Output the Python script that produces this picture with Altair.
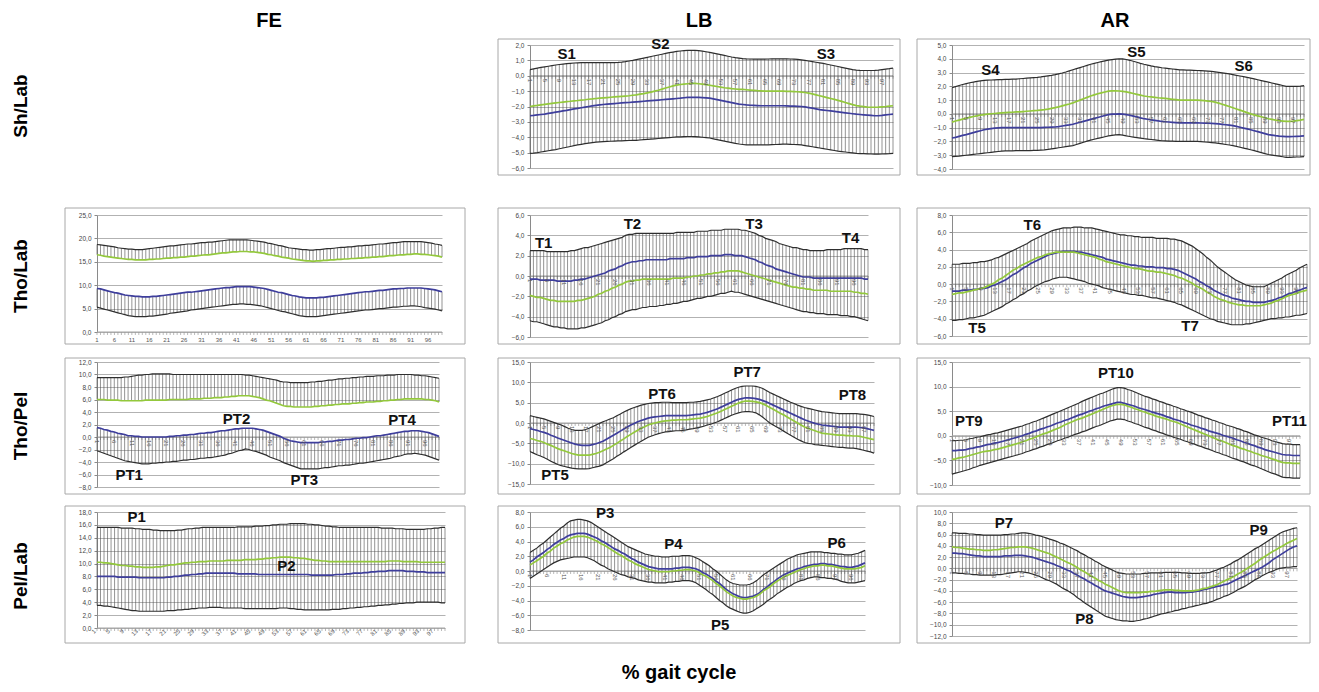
import altair as alt
import pandas as pd

FONT = "Liberation Sans"
GREEN = "#93C83C"
BLUE = "#3E3E9C"
ENV = "#2e2e2e"
HATCH = "#4c4c4c"
GRID = "#b2b2b2"

X = list(range(1, 101))
TICKS4 = [1, 5, 9, 13, 17, 21, 25, 29, 33, 37, 41, 45, 49, 53, 57, 61, 65, 69, 73, 77, 81, 85, 89, 93, 97]
TICKS5 = [1, 6, 11, 16, 21, 26, 31, 36, 41, 46, 51, 56, 61, 66, 71, 76, 81, 86, 91, 96]

# ---------------- Sh/Lab  LB ----------------
SH_LB_U = [0.40,0.45,0.50,0.54,0.58,0.62,0.66,0.70,0.73,0.76,
           0.79,0.81,0.83,0.84,0.85,0.85,0.85,0.85,0.85,0.85,
           0.85,0.85,0.85,0.86,0.87,0.89,0.92,0.96,1.00,1.05,
           1.10,1.15,1.20,1.25,1.30,1.35,1.40,1.45,1.50,1.54,
           1.58,1.61,1.63,1.65,1.65,1.65,1.63,1.60,1.56,1.52,
           1.47,1.42,1.37,1.32,1.27,1.22,1.18,1.15,1.12,1.10,
           1.09,1.08,1.08,1.08,1.08,1.09,1.10,1.10,1.10,1.10,
           1.10,1.09,1.08,1.06,1.03,1.00,0.96,0.92,0.88,0.84,
           0.80,0.75,0.70,0.65,0.60,0.55,0.50,0.45,0.40,0.37,
           0.35,0.34,0.34,0.34,0.35,0.37,0.40,0.43,0.46,0.50]
SH_LB_G = [-2.00,-1.96,-1.93,-1.89,-1.86,-1.83,-1.80,-1.77,-1.74,-1.71,
           -1.68,-1.66,-1.63,-1.61,-1.58,-1.56,-1.53,-1.51,-1.48,-1.46,
           -1.44,-1.42,-1.40,-1.38,-1.36,-1.34,-1.32,-1.30,-1.27,-1.24,
           -1.20,-1.16,-1.11,-1.06,-1.00,-0.94,-0.87,-0.80,-0.73,-0.66,
           -0.61,-0.57,-0.54,-0.52,-0.50,-0.50,-0.52,-0.55,-0.58,-0.62,
           -0.66,-0.70,-0.74,-0.78,-0.81,-0.84,-0.86,-0.88,-0.89,-0.91,
           -0.93,-0.95,-0.97,-0.98,-1.00,-1.00,-1.00,-1.00,-1.00,-1.00,
           -1.01,-1.02,-1.03,-1.04,-1.06,-1.09,-1.13,-1.18,-1.24,-1.30,
           -1.36,-1.42,-1.48,-1.54,-1.60,-1.67,-1.74,-1.81,-1.88,-1.94,
           -1.98,-2.01,-2.04,-2.05,-2.05,-2.04,-2.02,-2.00,-1.97,-1.95]
SH_LB_B = [-2.60,-2.58,-2.55,-2.52,-2.49,-2.45,-2.41,-2.37,-2.33,-2.29,
           -2.25,-2.20,-2.16,-2.12,-2.08,-2.04,-2.00,-1.96,-1.93,-1.90,
           -1.87,-1.85,-1.83,-1.81,-1.79,-1.77,-1.75,-1.74,-1.72,-1.70,
           -1.68,-1.66,-1.64,-1.62,-1.60,-1.58,-1.56,-1.54,-1.52,-1.50,
           -1.48,-1.46,-1.43,-1.41,-1.40,-1.40,-1.41,-1.42,-1.44,-1.46,
           -1.50,-1.55,-1.60,-1.65,-1.70,-1.75,-1.80,-1.84,-1.87,-1.90,
           -1.92,-1.93,-1.94,-1.95,-1.95,-1.95,-1.95,-1.95,-1.95,-1.95,
           -1.96,-1.97,-1.98,-1.99,-2.00,-2.03,-2.07,-2.11,-2.15,-2.20,
           -2.23,-2.26,-2.29,-2.32,-2.35,-2.38,-2.41,-2.44,-2.47,-2.50,
           -2.52,-2.54,-2.56,-2.58,-2.60,-2.60,-2.58,-2.55,-2.52,-2.50]
SH_LB_L = [-5.05,-5.03,-5.00,-4.96,-4.92,-4.88,-4.84,-4.80,-4.75,-4.70,
           -4.65,-4.60,-4.55,-4.50,-4.46,-4.42,-4.38,-4.35,-4.32,-4.30,
           -4.28,-4.27,-4.26,-4.25,-4.24,-4.23,-4.22,-4.21,-4.20,-4.20,
           -4.18,-4.16,-4.14,-4.12,-4.10,-4.08,-4.06,-4.04,-4.02,-4.00,
           -3.98,-3.97,-3.96,-3.95,-3.95,-3.96,-3.98,-4.00,-4.02,-4.05,
           -4.10,-4.15,-4.20,-4.25,-4.30,-4.35,-4.40,-4.44,-4.47,-4.50,
           -4.50,-4.50,-4.50,-4.50,-4.50,-4.49,-4.48,-4.47,-4.46,-4.45,
           -4.45,-4.46,-4.47,-4.48,-4.50,-4.54,-4.58,-4.62,-4.66,-4.70,
           -4.74,-4.78,-4.82,-4.86,-4.90,-4.93,-4.96,-4.99,-5.02,-5.05,
           -5.06,-5.07,-5.08,-5.09,-5.10,-5.10,-5.09,-5.08,-5.07,-5.05]

# ---------------- Sh/Lab  AR ----------------
SH_AR_U = [1.90,1.98,2.06,2.13,2.20,2.26,2.31,2.36,2.40,2.43,
           2.45,2.46,2.47,2.48,2.49,2.50,2.51,2.52,2.53,2.55,
           2.57,2.59,2.61,2.63,2.65,2.68,2.72,2.76,2.80,2.85,
           2.91,2.97,3.04,3.12,3.20,3.28,3.36,3.44,3.52,3.60,
           3.67,3.73,3.79,3.85,3.90,3.94,3.97,4.00,3.99,3.95,
           3.89,3.82,3.75,3.67,3.60,3.54,3.48,3.43,3.39,3.35,
           3.32,3.29,3.26,3.23,3.20,3.19,3.18,3.17,3.16,3.15,
           3.14,3.12,3.10,3.08,3.05,3.02,2.98,2.94,2.90,2.85,
           2.80,2.75,2.70,2.65,2.60,2.54,2.48,2.42,2.36,2.30,
           2.24,2.18,2.12,2.06,2.00,1.99,1.99,2.00,2.02,2.05]
SH_AR_G = [-0.60,-0.52,-0.45,-0.38,-0.31,-0.25,-0.19,-0.14,-0.09,-0.05,
           -0.02,0.01,0.03,0.05,0.07,0.09,0.11,0.12,0.14,0.15,
           0.17,0.19,0.21,0.23,0.25,0.28,0.31,0.35,0.40,0.45,
           0.51,0.58,0.65,0.72,0.80,0.90,1.00,1.10,1.20,1.30,
           1.38,1.46,1.53,1.59,1.65,1.67,1.67,1.66,1.64,1.60,
           1.54,1.48,1.42,1.36,1.30,1.26,1.23,1.20,1.17,1.15,
           1.12,1.09,1.06,1.03,1.00,1.00,1.00,1.00,1.00,1.00,
           0.98,0.96,0.93,0.90,0.85,0.78,0.70,0.62,0.54,0.45,
           0.36,0.27,0.18,0.09,0.00,-0.07,-0.14,-0.21,-0.28,-0.35,
           -0.40,-0.45,-0.49,-0.52,-0.55,-0.55,-0.53,-0.49,-0.45,-0.40]
SH_AR_B = [-1.75,-1.70,-1.63,-1.56,-1.50,-1.43,-1.36,-1.29,-1.22,-1.15,
           -1.11,-1.07,-1.04,-1.02,-1.00,-1.00,-1.00,-1.00,-1.00,-1.00,
           -1.00,-1.00,-1.00,-1.00,-1.00,-0.99,-0.98,-0.97,-0.96,-0.95,
           -0.92,-0.88,-0.84,-0.80,-0.75,-0.68,-0.61,-0.54,-0.47,-0.40,
           -0.33,-0.26,-0.19,-0.12,-0.05,-0.02,-0.01,0.00,-0.02,-0.05,
           -0.10,-0.16,-0.22,-0.29,-0.35,-0.39,-0.43,-0.47,-0.51,-0.55,
           -0.57,-0.59,-0.61,-0.63,-0.65,-0.65,-0.65,-0.65,-0.65,-0.65,
           -0.66,-0.67,-0.68,-0.69,-0.70,-0.73,-0.76,-0.79,-0.82,-0.85,
           -0.91,-0.97,-1.03,-1.09,-1.15,-1.22,-1.29,-1.36,-1.43,-1.50,
           -1.54,-1.58,-1.61,-1.63,-1.65,-1.65,-1.64,-1.63,-1.62,-1.60]
SH_AR_L = [-3.10,-3.08,-3.06,-3.03,-3.00,-2.97,-2.94,-2.91,-2.88,-2.85,
           -2.82,-2.79,-2.76,-2.73,-2.70,-2.69,-2.68,-2.68,-2.67,-2.67,
           -2.66,-2.66,-2.66,-2.65,-2.65,-2.63,-2.61,-2.58,-2.54,-2.50,
           -2.46,-2.42,-2.38,-2.34,-2.30,-2.22,-2.14,-2.06,-1.98,-1.90,
           -1.84,-1.78,-1.72,-1.66,-1.60,-1.56,-1.53,-1.50,-1.54,-1.60,
           -1.64,-1.68,-1.72,-1.76,-1.80,-1.83,-1.86,-1.89,-1.92,-1.95,
           -1.96,-1.97,-1.98,-1.99,-2.00,-2.00,-2.00,-2.00,-2.00,-2.00,
           -2.02,-2.04,-2.06,-2.08,-2.10,-2.14,-2.18,-2.22,-2.26,-2.30,
           -2.36,-2.42,-2.48,-2.54,-2.60,-2.67,-2.74,-2.81,-2.88,-2.95,
           -2.99,-3.03,-3.07,-3.11,-3.15,-3.15,-3.14,-3.13,-3.12,-3.10]

# ---------------- Tho/Lab  FE ----------------
TL_FE_U = [18.7,18.6,18.5,18.4,18.3,18.2,18.0,17.9,17.8,17.7,
           17.7,17.6,17.6,17.6,17.7,17.8,17.9,18.0,18.1,18.2,
           18.3,18.4,18.4,18.5,18.6,18.7,18.8,18.8,18.9,19.0,
           19.1,19.1,19.2,19.2,19.3,19.4,19.5,19.6,19.7,19.7,
           19.7,19.7,19.7,19.7,19.6,19.5,19.4,19.3,19.2,19.0,
           18.9,18.7,18.5,18.4,18.2,18.0,17.9,17.8,17.7,17.6,
           17.6,17.5,17.5,17.6,17.6,17.7,17.8,17.8,17.9,18.0,
           18.1,18.1,18.2,18.2,18.3,18.4,18.4,18.5,18.5,18.6,
           18.7,18.8,18.8,18.9,19.0,19.1,19.1,19.2,19.3,19.3,
           19.3,19.3,19.3,19.3,19.2,19.1,19.0,18.8,18.7,18.5]
TL_FE_G = [16.5,16.4,16.2,16.1,16.0,15.9,15.8,15.7,15.6,15.5,
           15.5,15.4,15.4,15.4,15.4,15.5,15.5,15.6,15.6,15.7,
           15.8,15.8,15.9,15.9,16.0,16.0,16.1,16.2,16.2,16.3,
           16.4,16.5,16.5,16.6,16.7,16.8,16.9,16.9,17.0,17.1,
           17.1,17.2,17.2,17.2,17.1,17.1,17.0,16.9,16.8,16.6,
           16.5,16.3,16.2,16.0,15.9,15.8,15.6,15.5,15.4,15.3,
           15.2,15.2,15.1,15.2,15.2,15.3,15.3,15.4,15.4,15.5,
           15.5,15.6,15.6,15.7,15.7,15.8,15.8,15.9,15.9,16.0,
           16.0,16.1,16.1,16.2,16.3,16.3,16.4,16.5,16.5,16.6,
           16.6,16.7,16.7,16.6,16.6,16.5,16.4,16.3,16.2,16.0]
TL_FE_B = [9.3,9.2,9.0,8.8,8.6,8.4,8.3,8.1,7.9,7.8,
           7.7,7.6,7.6,7.5,7.5,7.5,7.6,7.6,7.7,7.8,
           7.9,8.0,8.1,8.2,8.3,8.4,8.5,8.5,8.6,8.7,
           8.8,8.9,9.0,9.1,9.2,9.3,9.4,9.5,9.5,9.6,
           9.7,9.7,9.7,9.7,9.7,9.6,9.5,9.4,9.3,9.1,
           8.9,8.7,8.5,8.4,8.2,8.0,7.8,7.7,7.5,7.4,
           7.3,7.3,7.3,7.3,7.4,7.4,7.5,7.6,7.7,7.8,
           7.9,8.0,8.1,8.2,8.3,8.4,8.5,8.6,8.6,8.7,
           8.8,8.9,8.9,9.0,9.1,9.2,9.2,9.3,9.3,9.4,
           9.4,9.4,9.4,9.4,9.3,9.2,9.1,9.0,8.8,8.6]
TL_FE_L = [5.3,5.1,4.9,4.7,4.5,4.3,4.1,3.9,3.7,3.5,
           3.4,3.3,3.3,3.3,3.3,3.4,3.4,3.5,3.6,3.7,
           3.8,4.0,4.1,4.2,4.3,4.4,4.5,4.7,4.8,4.9,
           5.0,5.1,5.2,5.3,5.4,5.5,5.6,5.7,5.8,5.9,
           5.9,6.0,6.0,5.9,5.9,5.8,5.7,5.6,5.4,5.2,
           5.0,4.8,4.6,4.4,4.3,4.1,3.9,3.7,3.5,3.4,
           3.3,3.3,3.3,3.3,3.4,3.5,3.6,3.7,3.8,3.9,
           4.0,4.1,4.2,4.3,4.4,4.5,4.6,4.7,4.7,4.8,
           4.9,5.0,5.0,5.1,5.2,5.3,5.3,5.4,5.5,5.5,
           5.6,5.6,5.5,5.4,5.2,5.1,5.0,4.9,4.7,4.5]

# ---------------- Tho/Lab  LB ----------------
TL_LB_U = [2.5,2.5,2.5,2.5,2.5,2.4,2.4,2.4,2.4,2.4,
           2.4,2.4,2.5,2.5,2.6,2.7,2.8,2.8,2.9,3.0,
           3.1,3.2,3.3,3.4,3.5,3.6,3.7,3.8,4.0,4.1,
           4.1,4.2,4.2,4.2,4.2,4.2,4.2,4.2,4.2,4.2,
           4.2,4.2,4.2,4.3,4.3,4.3,4.3,4.3,4.3,4.4,
           4.4,4.4,4.4,4.5,4.5,4.5,4.5,4.6,4.6,4.6,
           4.6,4.6,4.5,4.5,4.4,4.3,4.2,4.0,3.9,3.7,
           3.6,3.5,3.4,3.2,3.1,3.0,2.9,2.8,2.8,2.7,
           2.6,2.6,2.5,2.5,2.5,2.5,2.5,2.6,2.6,2.6,
           2.6,2.6,2.7,2.7,2.7,2.7,2.7,2.7,2.6,2.6]
TL_LB_B = [-0.3,-0.3,-0.3,-0.4,-0.4,-0.4,-0.4,-0.4,-0.5,-0.5,
           -0.5,-0.5,-0.5,-0.4,-0.4,-0.3,-0.3,-0.2,-0.1,0.0,
           0.1,0.2,0.3,0.5,0.6,0.7,0.9,1.0,1.2,1.3,
           1.4,1.4,1.5,1.5,1.6,1.6,1.6,1.6,1.6,1.6,
           1.6,1.7,1.7,1.7,1.7,1.7,1.8,1.8,1.8,1.9,
           1.9,1.9,1.9,2.0,2.0,2.0,2.0,2.1,2.1,2.1,
           2.0,2.0,2.0,1.9,1.8,1.7,1.6,1.4,1.3,1.1,
           1.0,0.9,0.7,0.6,0.5,0.4,0.3,0.2,0.1,0.0,
           -0.1,-0.1,-0.1,-0.2,-0.2,-0.2,-0.2,-0.2,-0.2,-0.2,
           -0.2,-0.2,-0.2,-0.2,-0.2,-0.2,-0.2,-0.2,-0.3,-0.3]
TL_LB_G = [-1.9,-2.0,-2.1,-2.1,-2.2,-2.3,-2.4,-2.4,-2.5,-2.5,
           -2.5,-2.5,-2.5,-2.5,-2.4,-2.4,-2.3,-2.2,-2.1,-2.0,
           -1.8,-1.7,-1.5,-1.4,-1.2,-1.1,-0.9,-0.8,-0.6,-0.5,
           -0.5,-0.4,-0.4,-0.3,-0.3,-0.3,-0.3,-0.3,-0.3,-0.3,
           -0.3,-0.3,-0.2,-0.2,-0.2,-0.2,-0.1,-0.1,0.0,0.0,
           0.1,0.1,0.2,0.2,0.3,0.3,0.4,0.4,0.5,0.5,
           0.5,0.5,0.4,0.3,0.2,0.1,0.0,-0.1,-0.2,-0.3,
           -0.4,-0.5,-0.6,-0.7,-0.8,-0.9,-1.0,-1.1,-1.1,-1.2,
           -1.2,-1.3,-1.3,-1.4,-1.4,-1.4,-1.4,-1.4,-1.5,-1.5,
           -1.5,-1.5,-1.5,-1.5,-1.5,-1.6,-1.6,-1.7,-1.7,-1.8]
TL_LB_L = [-4.4,-4.5,-4.5,-4.6,-4.7,-4.8,-4.9,-5.0,-5.0,-5.1,
           -5.1,-5.2,-5.2,-5.2,-5.2,-5.1,-5.1,-5.0,-4.9,-4.8,
           -4.7,-4.6,-4.4,-4.3,-4.1,-4.0,-3.8,-3.7,-3.5,-3.4,
           -3.3,-3.3,-3.2,-3.1,-3.1,-3.0,-3.0,-3.0,-2.9,-2.9,
           -2.8,-2.8,-2.7,-2.7,-2.6,-2.5,-2.5,-2.4,-2.3,-2.2,
           -2.2,-2.1,-2.0,-2.0,-1.9,-1.8,-1.7,-1.7,-1.6,-1.5,
           -1.6,-1.6,-1.7,-1.8,-1.9,-2.0,-2.1,-2.2,-2.3,-2.4,
           -2.5,-2.6,-2.7,-2.8,-2.9,-3.0,-3.1,-3.2,-3.3,-3.4,
           -3.5,-3.5,-3.6,-3.6,-3.7,-3.7,-3.7,-3.8,-3.8,-3.8,
           -3.8,-3.9,-3.9,-3.9,-4.0,-4.0,-4.1,-4.2,-4.3,-4.4]

# ---------------- Tho/Lab  AR ----------------
TL_AR_U = [2.3,2.3,2.3,2.4,2.4,2.4,2.5,2.5,2.6,2.6,
           2.7,2.8,3.0,3.1,3.3,3.5,3.7,3.9,4.1,4.3,
           4.5,4.7,5.0,5.2,5.4,5.6,5.8,6.0,6.2,6.3,
           6.4,6.5,6.5,6.5,6.6,6.6,6.6,6.5,6.5,6.5,
           6.4,6.3,6.2,6.1,6.0,5.9,5.8,5.7,5.7,5.6,
           5.6,5.5,5.5,5.4,5.4,5.4,5.4,5.3,5.3,5.3,
           5.3,5.2,5.2,5.1,5.0,4.8,4.6,4.4,4.1,3.8,
           3.5,3.1,2.8,2.4,2.0,1.7,1.4,1.1,0.8,0.5,
           0.3,0.1,-0.1,-0.2,-0.3,-0.3,-0.3,-0.3,-0.1,0.1,
           0.3,0.5,0.7,1.0,1.2,1.4,1.6,1.9,2.1,2.3]
TL_AR_B = [-0.8,-0.8,-0.8,-0.7,-0.7,-0.7,-0.6,-0.6,-0.5,-0.5,
           -0.4,-0.2,-0.1,0.1,0.3,0.5,0.8,1.1,1.3,1.6,
           1.9,2.1,2.4,2.6,2.8,3.0,3.2,3.4,3.5,3.6,
           3.7,3.8,3.8,3.8,3.8,3.7,3.7,3.6,3.5,3.4,
           3.3,3.2,3.1,2.9,2.8,2.7,2.6,2.5,2.4,2.3,
           2.2,2.2,2.1,2.1,2.0,2.0,2.0,1.9,1.9,1.9,
           1.8,1.8,1.7,1.6,1.4,1.2,1.0,0.8,0.6,0.3,
           0.1,-0.2,-0.4,-0.7,-0.9,-1.1,-1.3,-1.4,-1.6,-1.7,
           -1.8,-1.9,-2.0,-2.0,-2.1,-2.1,-2.1,-2.1,-2.0,-1.9,
           -1.8,-1.6,-1.5,-1.3,-1.1,-1.0,-0.8,-0.7,-0.5,-0.4]
TL_AR_G = [-1.2,-1.1,-1.0,-1.0,-0.9,-0.8,-0.7,-0.6,-0.5,-0.4,
           -0.2,0.0,0.2,0.5,0.7,1.0,1.3,1.6,1.8,2.1,
           2.3,2.5,2.7,2.9,3.1,3.2,3.4,3.5,3.6,3.7,
           3.7,3.7,3.7,3.7,3.7,3.6,3.5,3.4,3.3,3.2,
           3.1,2.9,2.8,2.6,2.5,2.4,2.3,2.2,2.1,2.0,
           1.9,1.8,1.8,1.7,1.6,1.5,1.5,1.4,1.4,1.3,
           1.2,1.1,1.0,0.8,0.7,0.5,0.3,0.1,-0.2,-0.4,
           -0.6,-0.9,-1.1,-1.4,-1.6,-1.8,-1.9,-2.1,-2.2,-2.3,
           -2.4,-2.4,-2.5,-2.5,-2.5,-2.5,-2.5,-2.4,-2.3,-2.2,
           -2.0,-1.9,-1.7,-1.5,-1.3,-1.2,-1.1,-0.9,-0.8,-0.7]
TL_AR_L = [-4.2,-4.2,-4.1,-4.1,-4.0,-3.9,-3.9,-3.8,-3.7,-3.6,
           -3.4,-3.2,-3.0,-2.8,-2.6,-2.3,-2.1,-1.8,-1.6,-1.3,
           -1.1,-0.8,-0.6,-0.3,-0.1,0.1,0.3,0.4,0.6,0.7,
           0.8,0.8,0.8,0.7,0.6,0.5,0.4,0.3,0.1,0.0,
           -0.1,-0.2,-0.4,-0.5,-0.6,-0.7,-0.8,-0.9,-1.0,-1.1,
           -1.2,-1.2,-1.3,-1.3,-1.4,-1.5,-1.6,-1.6,-1.7,-1.8,
           -1.9,-2.0,-2.1,-2.3,-2.4,-2.6,-2.8,-3.0,-3.2,-3.4,
           -3.6,-3.8,-4.0,-4.1,-4.3,-4.4,-4.5,-4.6,-4.7,-4.7,
           -4.7,-4.7,-4.6,-4.6,-4.5,-4.4,-4.3,-4.2,-4.1,-4.0,
           -4.0,-3.9,-3.9,-3.8,-3.8,-3.7,-3.6,-3.6,-3.5,-3.4]

# ---------------- Tho/Pel  FE ----------------
TP_FE_U = [9.5,9.5,9.5,9.5,9.5,9.5,9.5,9.5,9.6,9.6,
           9.7,9.8,9.9,9.9,10.0,10.0,10.1,10.1,10.1,10.1,
           10.1,10.1,10.0,10.0,10.0,10.0,10.0,10.0,10.0,10.0,
           10.0,10.0,10.0,10.0,10.0,10.0,10.0,10.0,10.0,10.0,
           10.0,10.0,10.0,9.9,9.9,9.8,9.7,9.6,9.5,9.4,
           9.3,9.2,9.1,8.9,8.8,8.8,8.7,8.7,8.7,8.7,
           8.7,8.7,8.8,8.8,8.9,8.9,9.0,9.1,9.1,9.2,
           9.3,9.3,9.4,9.4,9.5,9.5,9.6,9.6,9.7,9.7,
           9.7,9.8,9.8,9.8,9.9,9.9,9.9,10.0,10.0,10.0,
           10.0,10.0,9.9,9.9,9.8,9.8,9.7,9.6,9.5,9.4]
TP_FE_G = [6.0,6.0,6.0,5.9,5.9,5.9,5.9,5.8,5.8,5.8,
           5.8,5.8,5.8,5.8,5.9,5.9,5.9,5.9,5.9,5.9,
           5.9,6.0,6.0,6.0,6.0,6.0,6.0,6.1,6.1,6.1,
           6.1,6.2,6.2,6.2,6.3,6.3,6.3,6.4,6.4,6.5,
           6.5,6.6,6.6,6.6,6.6,6.5,6.4,6.3,6.1,5.9,
           5.8,5.6,5.4,5.2,5.0,4.9,4.9,4.8,4.8,4.8,
           4.8,4.8,4.8,4.9,4.9,5.0,5.0,5.1,5.1,5.2,
           5.2,5.3,5.3,5.3,5.4,5.4,5.5,5.5,5.6,5.6,
           5.6,5.7,5.7,5.8,5.8,5.9,5.9,6.0,6.0,6.1,
           6.1,6.1,6.1,6.1,6.1,6.0,6.0,5.9,5.8,5.6]
TP_FE_B = [1.5,1.4,1.2,1.1,0.9,0.8,0.6,0.5,0.4,0.2,
           0.2,0.1,0.1,0.0,0.0,0.0,0.0,0.0,0.0,0.0,
           0.0,0.1,0.1,0.2,0.2,0.3,0.3,0.4,0.4,0.5,
           0.6,0.6,0.7,0.7,0.8,0.9,1.0,1.0,1.1,1.2,
           1.3,1.3,1.4,1.4,1.4,1.4,1.3,1.2,1.1,0.9,
           0.7,0.5,0.3,0.1,-0.2,-0.4,-0.6,-0.7,-0.8,-0.9,
           -0.9,-0.9,-0.9,-0.9,-0.9,-0.8,-0.8,-0.7,-0.7,-0.6,
           -0.5,-0.5,-0.4,-0.4,-0.3,-0.2,-0.2,-0.1,-0.1,0.0,
           0.1,0.2,0.2,0.3,0.4,0.5,0.6,0.7,0.8,0.9,
           0.9,1.0,1.0,1.0,0.9,0.8,0.7,0.5,0.3,0.1]
TP_FE_L = [-2.2,-2.4,-2.6,-2.8,-3.0,-3.2,-3.4,-3.6,-3.8,-3.9,
           -4.0,-4.1,-4.2,-4.3,-4.3,-4.3,-4.2,-4.2,-4.1,-4.1,
           -4.0,-4.0,-3.9,-3.9,-3.8,-3.7,-3.7,-3.6,-3.6,-3.5,
           -3.4,-3.4,-3.3,-3.3,-3.2,-3.1,-3.0,-2.9,-2.7,-2.6,
           -2.4,-2.2,-2.1,-1.9,-2.0,-2.2,-2.3,-2.5,-2.7,-2.9,
           -3.2,-3.4,-3.6,-3.8,-4.1,-4.3,-4.5,-4.7,-4.9,-5.1,
           -5.1,-5.1,-5.1,-5.1,-5.1,-5.0,-4.9,-4.9,-4.8,-4.7,
           -4.6,-4.6,-4.5,-4.5,-4.4,-4.3,-4.2,-4.2,-4.1,-4.0,
           -3.9,-3.8,-3.7,-3.6,-3.5,-3.4,-3.2,-3.1,-3.0,-2.8,
           -2.7,-2.7,-2.6,-2.7,-2.8,-2.9,-3.1,-3.3,-3.5,-3.7]

# ---------------- Tho/Pel  LB ----------------
TP_LB_U = [1.8,1.6,1.4,1.2,1.0,0.7,0.4,0.1,-0.2,-0.5,
           -0.9,-1.3,-1.6,-1.8,-1.8,-1.8,-1.6,-1.3,-0.9,-0.5,
           -0.1,0.3,0.6,1.0,1.3,1.8,2.2,2.7,3.1,3.5,
           3.8,4.1,4.4,4.6,4.8,4.9,5.0,5.0,5.1,5.1,
           5.1,5.0,5.0,5.0,5.0,5.0,5.1,5.1,5.2,5.3,
           5.5,5.7,5.9,6.2,6.5,6.9,7.3,7.7,8.1,8.5,
           8.8,9.0,9.1,9.1,9.1,9.0,8.8,8.5,8.0,7.5,
           7.1,6.7,6.3,5.9,5.5,5.1,4.8,4.4,4.1,3.8,
           3.6,3.4,3.2,3.0,2.8,2.7,2.6,2.5,2.4,2.3,
           2.3,2.3,2.3,2.3,2.3,2.2,2.1,2.0,1.8,1.6]
TP_LB_B = [-1.4,-1.6,-1.8,-2.1,-2.3,-2.6,-3.0,-3.3,-3.7,-4.0,
           -4.3,-4.6,-4.9,-5.2,-5.4,-5.5,-5.5,-5.5,-5.3,-5.1,
           -4.8,-4.5,-4.0,-3.5,-3.0,-2.5,-2.0,-1.5,-1.0,-0.5,
           -0.1,0.3,0.6,0.9,1.2,1.4,1.5,1.6,1.7,1.8,
           1.8,1.8,1.8,1.8,1.8,1.8,1.9,2.0,2.1,2.2,
           2.4,2.6,2.9,3.2,3.5,3.9,4.3,4.7,5.1,5.5,
           5.8,6.0,6.2,6.2,6.1,6.0,5.8,5.5,5.2,4.8,
           4.4,4.0,3.6,3.2,2.8,2.4,2.0,1.6,1.2,0.8,
           0.5,0.2,-0.1,-0.3,-0.5,-0.6,-0.7,-0.8,-0.9,-1.0,
           -1.0,-1.0,-1.0,-1.0,-1.0,-1.1,-1.2,-1.4,-1.6,-1.8]
TP_LB_G = [-3.8,-4.0,-4.3,-4.5,-4.8,-5.2,-5.5,-5.9,-6.3,-6.6,
           -6.9,-7.2,-7.5,-7.7,-7.9,-7.9,-7.9,-7.9,-7.7,-7.5,
           -7.2,-6.8,-6.4,-6.0,-5.5,-5.0,-4.4,-3.9,-3.3,-2.8,
           -2.3,-1.8,-1.3,-0.9,-0.5,-0.2,0.0,0.2,0.4,0.5,
           0.6,0.7,0.7,0.8,0.8,0.8,0.9,1.0,1.1,1.2,
           1.4,1.6,1.9,2.2,2.5,2.9,3.3,3.7,4.1,4.5,
           4.9,5.2,5.4,5.4,5.3,5.2,5.0,4.7,4.3,3.8,
           3.4,2.9,2.4,2.0,1.5,1.0,0.5,0.0,-0.5,-1.0,
           -1.3,-1.6,-1.9,-2.2,-2.5,-2.6,-2.7,-2.8,-2.9,-3.0,
           -3.0,-3.1,-3.1,-3.2,-3.2,-3.3,-3.5,-3.7,-3.9,-4.1]
TP_LB_L = [-7.0,-7.4,-7.8,-8.1,-8.5,-8.9,-9.4,-9.8,-10.2,-10.5,
           -10.7,-10.9,-11.1,-11.2,-11.3,-11.3,-11.3,-11.2,-11.0,-10.8,
           -10.6,-10.3,-9.8,-9.3,-8.8,-8.2,-7.7,-7.1,-6.6,-6.0,
           -5.5,-5.0,-4.5,-4.0,-3.5,-3.2,-2.9,-2.6,-2.4,-2.2,
           -2.1,-2.0,-1.9,-1.9,-1.8,-1.7,-1.5,-1.4,-1.2,-1.0,
           -0.8,-0.5,-0.3,0.0,0.3,0.7,1.1,1.5,1.9,2.2,
           2.5,2.7,2.8,2.8,2.7,2.5,2.0,1.4,0.7,0.0,
           -0.5,-1.0,-1.5,-2.0,-2.5,-3.0,-3.5,-4.0,-4.4,-4.8,
           -5.0,-5.1,-5.3,-5.4,-5.5,-5.6,-5.7,-5.8,-5.9,-6.0,
           -6.0,-6.1,-6.2,-6.2,-6.3,-6.5,-6.7,-6.9,-7.1,-7.4]

# ---------------- Tho/Pel  AR ----------------
TP_AR_U = [-1.0,-1.0,-0.9,-0.9,-0.8,-0.6,-0.5,-0.3,-0.2,0.0,
           0.2,0.3,0.5,0.6,0.8,1.0,1.2,1.4,1.6,1.8,
           2.0,2.3,2.5,2.8,3.0,3.3,3.6,3.9,4.2,4.5,
           4.8,5.1,5.4,5.7,6.0,6.3,6.6,7.0,7.3,7.6,
           7.9,8.2,8.5,8.7,9.0,9.3,9.6,9.8,9.8,9.7,
           9.4,9.2,8.9,8.6,8.3,8.0,7.8,7.5,7.3,7.0,
           6.8,6.5,6.3,6.0,5.8,5.5,5.3,5.0,4.8,4.5,
           4.2,4.0,3.7,3.5,3.2,3.0,2.7,2.5,2.2,2.0,
           1.8,1.5,1.3,1.0,0.8,0.5,0.2,0.0,-0.3,-0.5,
           -0.7,-1.0,-1.2,-1.4,-1.6,-1.7,-1.7,-1.8,-1.8,-1.8]
TP_AR_B = [-3.0,-3.0,-2.9,-2.9,-2.8,-2.6,-2.5,-2.3,-2.2,-2.0,
           -1.8,-1.7,-1.5,-1.4,-1.2,-1.0,-0.8,-0.6,-0.4,-0.2,
           0.0,0.3,0.5,0.8,1.0,1.3,1.5,1.8,2.0,2.3,
           2.6,2.8,3.1,3.3,3.6,3.9,4.2,4.4,4.7,5.0,
           5.2,5.5,5.7,6.0,6.2,6.4,6.6,6.8,6.8,6.6,
           6.4,6.2,6.0,5.7,5.5,5.3,5.1,4.8,4.6,4.4,
           4.2,3.9,3.7,3.4,3.2,3.0,2.7,2.5,2.2,2.0,
           1.8,1.5,1.3,1.0,0.8,0.6,0.4,0.1,-0.1,-0.3,
           -0.5,-0.8,-1.0,-1.3,-1.5,-1.8,-2.0,-2.3,-2.5,-2.8,
           -3.0,-3.2,-3.4,-3.6,-3.8,-3.9,-3.9,-4.0,-4.0,-4.0]
TP_AR_G = [-4.8,-4.7,-4.5,-4.4,-4.2,-4.0,-3.8,-3.6,-3.4,-3.2,
           -3.1,-3.0,-2.8,-2.7,-2.5,-2.3,-2.1,-1.9,-1.7,-1.5,
           -1.2,-1.0,-0.7,-0.5,-0.2,0.1,0.4,0.6,0.9,1.2,
           1.5,1.8,2.2,2.5,2.8,3.1,3.4,3.6,3.9,4.2,
           4.5,4.8,5.1,5.4,5.7,6.0,6.2,6.4,6.4,6.3,
           6.0,5.8,5.5,5.3,5.0,4.8,4.5,4.3,4.0,3.8,
           3.6,3.4,3.1,2.9,2.7,2.4,2.1,1.8,1.5,1.2,
           0.9,0.6,0.3,0.0,-0.3,-0.6,-0.9,-1.1,-1.4,-1.7,
           -2.0,-2.2,-2.5,-2.7,-3.0,-3.2,-3.5,-3.7,-4.0,-4.2,
           -4.4,-4.7,-4.9,-5.2,-5.4,-5.5,-5.5,-5.6,-5.6,-5.6]
TP_AR_L = [-7.8,-7.6,-7.4,-7.2,-7.0,-6.8,-6.5,-6.3,-6.0,-5.8,
           -5.6,-5.4,-5.2,-5.0,-4.8,-4.6,-4.4,-4.2,-4.0,-3.8,
           -3.6,-3.3,-3.1,-2.8,-2.6,-2.3,-2.1,-1.8,-1.6,-1.3,
           -1.0,-0.8,-0.5,-0.3,0.0,0.3,0.5,0.8,1.0,1.3,
           1.6,1.9,2.1,2.4,2.7,3.0,3.2,3.4,3.4,3.3,
           3.0,2.8,2.5,2.3,2.0,1.7,1.5,1.2,1.0,0.7,
           0.5,0.2,0.0,-0.3,-0.5,-0.7,-1.0,-1.2,-1.5,-1.7,
           -2.0,-2.2,-2.5,-2.7,-3.0,-3.3,-3.5,-3.8,-4.0,-4.3,
           -4.6,-4.8,-5.1,-5.3,-5.6,-5.9,-6.1,-6.4,-6.7,-7.0,
           -7.3,-7.6,-7.8,-8.1,-8.4,-8.5,-8.5,-8.6,-8.6,-8.6]

# ---------------- Pel/Lab  FE ----------------
PL_FE_U = [15.6,15.6,15.6,15.6,15.6,15.6,15.6,15.5,15.5,15.5,
           15.5,15.4,15.4,15.3,15.3,15.3,15.2,15.2,15.1,15.1,
           15.1,15.1,15.1,15.2,15.2,15.3,15.4,15.4,15.5,15.5,
           15.6,15.6,15.6,15.6,15.6,15.6,15.6,15.6,15.6,15.6,
           15.7,15.7,15.7,15.7,15.7,15.8,15.8,15.8,15.9,15.9,
           16.0,16.0,16.1,16.1,16.1,16.2,16.2,16.2,16.2,16.2,
           16.1,16.1,16.0,16.0,15.9,15.8,15.8,15.7,15.7,15.6,
           15.6,15.6,15.6,15.6,15.6,15.6,15.6,15.6,15.6,15.6,
           15.6,15.5,15.5,15.5,15.5,15.4,15.4,15.4,15.3,15.3,
           15.3,15.3,15.3,15.3,15.4,15.4,15.5,15.5,15.6,15.6]
PL_FE_G = [10.2,10.2,10.1,10.1,10.0,9.9,9.8,9.7,9.7,9.6,
           9.6,9.5,9.5,9.4,9.4,9.4,9.4,9.5,9.5,9.6,
           9.7,9.8,9.8,9.9,10.0,10.1,10.1,10.2,10.2,10.3,
           10.3,10.3,10.4,10.4,10.4,10.4,10.4,10.5,10.5,10.5,
           10.5,10.5,10.6,10.6,10.6,10.6,10.7,10.7,10.8,10.8,
           10.9,10.9,11.0,11.0,11.0,11.0,10.9,10.9,10.8,10.8,
           10.7,10.6,10.5,10.5,10.4,10.4,10.3,10.3,10.3,10.3,
           10.3,10.3,10.3,10.3,10.3,10.3,10.3,10.3,10.3,10.3,
           10.3,10.3,10.3,10.4,10.4,10.4,10.4,10.3,10.3,10.3,
           10.3,10.3,10.2,10.2,10.2,10.2,10.2,10.2,10.2,10.2]
PL_FE_B = [8.0,8.0,8.0,8.0,8.0,8.0,7.9,7.9,7.9,7.9,
           7.9,7.9,7.8,7.8,7.8,7.8,7.8,7.8,7.8,7.8,
           7.9,7.9,8.0,8.0,8.1,8.2,8.2,8.3,8.3,8.4,
           8.4,8.5,8.5,8.5,8.5,8.5,8.5,8.5,8.5,8.5,
           8.4,8.4,8.4,8.4,8.4,8.4,8.3,8.3,8.3,8.3,
           8.3,8.3,8.3,8.3,8.3,8.3,8.3,8.3,8.3,8.3,
           8.3,8.2,8.2,8.2,8.2,8.2,8.2,8.2,8.3,8.3,
           8.3,8.4,8.4,8.5,8.5,8.5,8.6,8.6,8.7,8.7,
           8.8,8.8,8.8,8.9,8.9,8.9,8.9,8.9,8.8,8.8,
           8.8,8.7,8.7,8.7,8.6,8.6,8.6,8.6,8.6,8.6]
PL_FE_L = [3.5,3.5,3.4,3.4,3.3,3.2,3.1,3.0,2.9,2.8,
           2.7,2.7,2.6,2.6,2.6,2.6,2.6,2.6,2.6,2.6,
           2.7,2.7,2.7,2.8,2.8,2.9,2.9,3.0,3.0,3.1,
           3.1,3.1,3.2,3.2,3.2,3.2,3.1,3.1,3.1,3.1,
           3.1,3.1,3.0,3.0,3.0,3.0,3.0,3.0,3.0,3.0,
           3.0,3.0,3.1,3.1,3.1,3.0,3.0,2.9,2.9,2.8,
           2.8,2.8,2.8,2.8,2.8,2.8,2.8,2.9,2.9,2.9,
           3.0,3.0,3.1,3.1,3.2,3.2,3.3,3.3,3.4,3.4,
           3.5,3.5,3.6,3.6,3.7,3.7,3.8,3.8,3.9,3.9,
           3.9,4.0,4.0,4.0,4.0,4.0,4.0,4.0,3.9,3.9]

# ---------------- Pel/Lab  LB ----------------
PL_LB_U = [2.5,2.8,3.1,3.5,3.8,4.2,4.6,5.0,5.4,5.8,
           6.1,6.5,6.8,6.9,7.0,7.0,6.9,6.8,6.6,6.3,
           6.0,5.7,5.4,5.1,4.8,4.5,4.2,3.9,3.6,3.3,
           3.1,2.9,2.7,2.5,2.3,2.2,2.1,2.0,2.0,1.9,
           1.9,1.9,2.0,2.0,2.0,2.1,2.1,2.1,2.0,1.8,
           1.6,1.3,1.0,0.7,0.3,0.0,-0.4,-0.8,-1.2,-1.5,
           -1.7,-1.8,-1.9,-1.9,-1.9,-1.8,-1.6,-1.3,-0.9,-0.5,
           -0.2,0.1,0.4,0.7,1.0,1.3,1.6,1.8,2.0,2.2,
           2.3,2.4,2.5,2.6,2.6,2.6,2.6,2.5,2.5,2.4,
           2.4,2.3,2.3,2.2,2.2,2.2,2.3,2.4,2.6,2.8]
PL_LB_B = [1.2,1.5,1.9,2.2,2.5,2.9,3.2,3.6,3.9,4.2,
           4.4,4.7,4.9,5.0,5.1,5.1,5.1,5.0,4.8,4.6,
           4.4,4.1,3.9,3.6,3.3,3.0,2.8,2.5,2.3,2.0,
           1.7,1.5,1.2,1.0,0.8,0.6,0.5,0.4,0.3,0.3,
           0.3,0.3,0.3,0.4,0.4,0.5,0.5,0.5,0.4,0.3,
           0.1,-0.2,-0.4,-0.7,-1.0,-1.4,-1.7,-2.1,-2.5,-2.8,
           -3.1,-3.3,-3.5,-3.6,-3.6,-3.5,-3.4,-3.2,-2.9,-2.5,
           -2.2,-1.8,-1.5,-1.1,-0.8,-0.5,-0.3,-0.1,0.1,0.3,
           0.4,0.6,0.7,0.8,0.9,0.9,1.0,1.0,0.9,0.9,
           0.8,0.7,0.6,0.6,0.5,0.5,0.6,0.7,0.9,1.1]
PL_LB_G = [0.8,1.1,1.4,1.7,2.0,2.4,2.7,3.1,3.4,3.7,
           3.9,4.2,4.4,4.6,4.7,4.7,4.7,4.6,4.4,4.2,
           4.0,3.7,3.5,3.2,2.9,2.6,2.3,2.1,1.8,1.5,
           1.3,1.0,0.8,0.6,0.4,0.2,0.1,0.0,-0.1,-0.1,
           -0.1,-0.1,0.0,0.0,0.1,0.1,0.2,0.2,0.1,0.0,
           -0.2,-0.5,-0.7,-1.0,-1.3,-1.7,-2.0,-2.4,-2.8,-3.1,
           -3.4,-3.6,-3.7,-3.8,-3.8,-3.7,-3.6,-3.4,-3.1,-2.7,
           -2.4,-2.1,-1.7,-1.4,-1.1,-0.8,-0.6,-0.4,-0.2,0.0,
           0.2,0.3,0.5,0.6,0.7,0.7,0.8,0.8,0.7,0.7,
           0.6,0.5,0.4,0.3,0.3,0.3,0.3,0.4,0.5,0.7]
PL_LB_L = [-1.0,-0.7,-0.4,-0.1,0.2,0.5,0.8,1.1,1.3,1.5,
           1.6,1.7,1.8,1.9,1.9,1.9,1.9,1.8,1.6,1.4,
           1.1,0.8,0.6,0.3,0.1,-0.1,-0.3,-0.5,-0.6,-0.8,
           -0.9,-1.0,-1.2,-1.3,-1.4,-1.5,-1.5,-1.6,-1.6,-1.6,
           -1.6,-1.5,-1.5,-1.4,-1.4,-1.3,-1.3,-1.3,-1.4,-1.6,
           -1.9,-2.2,-2.5,-2.9,-3.2,-3.6,-4.0,-4.3,-4.7,-5.0,
           -5.2,-5.4,-5.6,-5.7,-5.7,-5.6,-5.4,-5.1,-4.8,-4.5,
           -4.1,-3.8,-3.5,-3.1,-2.8,-2.5,-2.2,-2.0,-1.7,-1.5,
           -1.3,-1.2,-1.0,-0.9,-0.8,-0.8,-0.9,-0.9,-1.0,-1.0,
           -1.1,-1.2,-1.4,-1.5,-1.6,-1.6,-1.6,-1.5,-1.4,-1.3]

# ---------------- Pel/Lab  AR ----------------
PL_AR_U = [6.3,6.3,6.2,6.2,6.2,6.1,6.1,6.0,6.0,5.9,
           5.9,5.9,5.9,5.9,5.9,6.0,6.0,6.1,6.1,6.2,
           6.3,6.3,6.2,6.1,5.9,5.8,5.6,5.4,5.2,5.0,
           4.8,4.5,4.3,4.0,3.7,3.4,3.1,2.7,2.4,2.0,
           1.7,1.3,1.0,0.6,0.3,0.0,-0.3,-0.6,-0.8,-0.9,
           -1.0,-1.0,-1.0,-1.0,-1.0,-0.9,-0.9,-0.8,-0.8,-0.8,
           -0.8,-0.7,-0.7,-0.7,-0.7,-0.7,-0.8,-0.8,-0.9,-0.9,
           -0.9,-0.9,-0.8,-0.8,-0.7,-0.5,-0.3,0.0,0.2,0.5,
           0.8,1.2,1.5,1.9,2.3,2.7,3.1,3.5,3.8,4.2,
           4.6,5.0,5.4,5.8,6.2,6.5,6.7,6.9,7.1,7.2]
PL_AR_G = [3.8,3.7,3.7,3.6,3.5,3.4,3.4,3.3,3.3,3.2,
           3.2,3.2,3.3,3.3,3.4,3.5,3.6,3.7,3.7,3.8,
           3.8,3.8,3.7,3.6,3.4,3.2,3.0,2.8,2.6,2.3,
           2.0,1.7,1.4,1.1,0.8,0.5,0.1,-0.3,-0.6,-1.0,
           -1.4,-1.7,-2.1,-2.4,-2.8,-3.1,-3.4,-3.7,-4.0,-4.2,
           -4.3,-4.3,-4.3,-4.3,-4.3,-4.2,-4.2,-4.1,-4.1,-4.0,
           -3.9,-3.8,-3.8,-3.8,-3.9,-3.9,-4.0,-4.0,-4.0,-4.0,
           -3.9,-3.8,-3.6,-3.5,-3.3,-3.1,-2.9,-2.6,-2.3,-2.0,
           -1.7,-1.4,-1.0,-0.7,-0.3,0.1,0.5,0.9,1.4,1.8,
           2.2,2.6,3.0,3.3,3.7,4.0,4.4,4.7,5.0,5.3]
PL_AR_B = [2.7,2.7,2.6,2.6,2.5,2.4,2.3,2.2,2.2,2.1,
           2.1,2.1,2.1,2.1,2.1,2.2,2.2,2.2,2.3,2.3,
           2.3,2.2,2.1,2.0,1.8,1.6,1.4,1.2,1.0,0.8,
           0.5,0.3,0.0,-0.3,-0.5,-0.9,-1.2,-1.6,-1.9,-2.3,
           -2.6,-3.0,-3.3,-3.7,-4.0,-4.2,-4.4,-4.6,-4.8,-5.0,
           -5.1,-5.2,-5.2,-5.2,-5.1,-5.0,-4.9,-4.8,-4.6,-4.5,
           -4.4,-4.3,-4.2,-4.2,-4.3,-4.3,-4.3,-4.3,-4.2,-4.2,
           -4.1,-4.0,-3.8,-3.7,-3.5,-3.4,-3.2,-3.1,-2.9,-2.8,
           -2.5,-2.2,-1.9,-1.6,-1.3,-1.0,-0.7,-0.4,-0.1,0.2,
           0.6,1.0,1.5,1.9,2.3,2.7,3.1,3.5,3.8,4.0]
PL_AR_L = [-0.8,-0.8,-0.9,-0.9,-1.0,-1.0,-1.1,-1.1,-1.2,-1.2,
           -1.2,-1.2,-1.2,-1.1,-1.1,-1.0,-0.9,-0.8,-0.7,-0.6,
           -0.6,-0.7,-0.8,-1.0,-1.2,-1.4,-1.7,-2.0,-2.2,-2.5,
           -2.8,-3.2,-3.6,-3.9,-4.3,-4.7,-5.2,-5.6,-6.1,-6.5,
           -6.9,-7.3,-7.7,-8.1,-8.5,-8.7,-8.9,-9.1,-9.2,-9.3,
           -9.3,-9.4,-9.4,-9.3,-9.2,-9.0,-8.9,-8.7,-8.5,-8.3,
           -8.1,-8.0,-7.8,-7.7,-7.5,-7.4,-7.2,-7.1,-6.9,-6.8,
           -6.6,-6.5,-6.3,-6.2,-6.0,-5.8,-5.5,-5.3,-5.0,-4.8,
           -4.5,-4.2,-3.8,-3.5,-3.2,-2.8,-2.4,-2.0,-1.7,-1.3,
           -1.0,-0.7,-0.5,-0.2,0.0,0.1,0.2,0.2,0.3,0.3]

# ---------------- annotation labels (text, x, y) ----------------
ANN_SH_LB = [("S1", 11, 1.4), ("S2", 36.6, 2.05), ("S3", 81.7, 1.4)]
ANN_SH_AR = [("S4", 11.8, 3.16), ("S5", 52.9, 4.5), ("S6", 83, 3.5)]
ANN_TL_LB = [("T1", 5, 3.2), ("T2", 31, 5.1), ("T3", 66.6, 5.1), ("T4", 94.9, 3.7)]
ANN_TL_AR = [("T5", 8, -5.1), ("T6", 23.4, 6.8), ("T7", 67.4, -4.9)]
ANN_TP_FE = [("PT1", 10.3, -6.1), ("PT2", 41.4, 2.9), ("PT3", 61, -6.9), ("PT4", 89.3, 2.7)]
ANN_TP_LB = [("PT5", 8.2, -12.9), ("PT6", 39, 7.2), ("PT7", 63.5, 12.5), ("PT8", 93.8, 6.8)]
ANN_TP_AR = [("PT9", 5.8, 3.0), ("PT10", 47.6, 12.7), ("PT11", 97, 3.0)]
ANN_PL_FE = [("P1", 12.3, 17.3), ("P2", 54.9, 9.6)]
ANN_PL_LB = [("P3", 23.2, 7.8), ("P4", 43.4, 3.6), ("P5", 57.2, -7.3), ("P6", 91.6, 3.8)]
ANN_PL_AR = [("P7", 15.9, 8.0), ("P8", 39, -8.9), ("P9", 89, 6.8)]

Y_SH_LB = [-6, -5, -4, -3, -2, -1, 0, 1, 2]
Y_SH_AR = [-4, -3, -2, -1, 0, 1, 2, 3, 4, 5]
Y_TL_FE = [0, 5, 10, 15, 20, 25]
Y_TL_LB = [-6, -4, -2, 0, 2, 4, 6]
Y_TL_AR = [-6, -4, -2, 0, 2, 4, 6, 8]
Y_TP_FE = [-8, -6, -4, -2, 0, 2, 4, 6, 8, 10, 12]
Y_TP_LB = [-15, -10, -5, 0, 5, 10, 15]
Y_TP_AR = [-10, -5, 0, 5, 10, 15]
Y_PL_FE = [0, 2, 4, 6, 8, 10, 12, 14, 16, 18]
Y_PL_LB = [-8, -6, -4, -2, 0, 2, 4, 6, 8]
Y_PL_AR = [-12, -10, -8, -6, -4, -2, 0, 2, 4, 6, 8, 10]

ONE = pd.DataFrame({"k": [0]})


def title_text(txt, px, py, angle=0, size=20):
    return alt.Chart(ONE).mark_text(
        text=txt, angle=angle, fontSize=size, fontWeight="bold", font=FONT,
        color="black", align="center", baseline="middle"
    ).encode(x=alt.value(px), y=alt.value(py))


def panel(u, g, b, l, yvals, w, h, xticks, xmode, split, ann, frame, texts=()):
    ylo, yhi = yvals[0], yvals[-1]
    df = pd.DataFrame({"x": X, "u": u, "g": g, "b": b, "l": l, "z": [0] * len(X)})
    xs = alt.Scale(domain=[1, 100], nice=False, zero=False)
    ys = alt.Scale(domain=[ylo, yhi], nice=False, zero=False)
    yax = alt.Axis(values=yvals, labelExpr="replace(format(datum.value, '.1f'), '.', ',')",
                   grid=True, gridColor=GRID, gridWidth=1, domainColor="#8a8a8a",
                   tickColor="#8a8a8a", tickSize=3, labelFont=FONT, labelFontSize=6.5,
                   labelColor="#454545", labelPadding=3, title=None)

    def Y(f):
        return alt.Y(f + ":Q", scale=ys, axis=yax)

    XE = alt.X("x:Q", scale=xs, axis=None)
    base = alt.Chart(df)
    fl, fr, ft, fb = frame
    layers = [
        alt.Chart(ONE).mark_rect(fillOpacity=0, stroke="#a8a8a8", strokeWidth=1).encode(
            x=alt.value(fl), x2=alt.value(fr), y=alt.value(ft), y2=alt.value(fb)),
    ]
    zline = pd.DataFrame({"x": [1], "x2": [100], "z": [0]})
    layers.append(alt.Chart(zline).mark_rule(color="#a4a4a4", strokeWidth=1).encode(
        x=XE, x2=alt.X2("x2:Q"), y=Y("z")))
    y0 = h * yhi / (yhi - ylo)
    layers.append(base.mark_rule(color="#9c9c9c", strokeWidth=0.7).encode(
        x=XE, y=Y("z"), y2=alt.value(y0 + 3)))
    if split:
        layers.append(base.mark_rule(color=HATCH, strokeWidth=0.6).encode(x=XE, y=Y("g"), y2=alt.Y2("u:Q")))
        layers.append(base.mark_rule(color=HATCH, strokeWidth=0.6).encode(x=XE, y=Y("b"), y2=alt.Y2("l:Q")))
    else:
        layers.append(base.mark_rule(color=HATCH, strokeWidth=0.6).encode(x=XE, y=Y("l"), y2=alt.Y2("u:Q")))
    layers.append(base.mark_line(color=ENV, strokeWidth=1.2).encode(x=XE, y=Y("u")))
    layers.append(base.mark_line(color=ENV, strokeWidth=1.2).encode(x=XE, y=Y("l")))
    layers.append(base.mark_line(color=BLUE, strokeWidth=1.7).encode(x=XE, y=Y("b")))
    layers.append(base.mark_line(color=GREEN, strokeWidth=1.7).encode(x=XE, y=Y("g")))

    tdf = pd.DataFrame({"x": xticks, "t": [str(v) for v in xticks], "z": [0] * len(xticks)})
    tstyle = dict(font=FONT, fontSize=6, color="#555555")
    if xmode == "rot":
        tm = alt.Chart(tdf).mark_text(angle=90, align="left", baseline="middle", dx=3, **tstyle)
    elif xmode == "flat":
        tm = alt.Chart(tdf).mark_text(align="center", baseline="top", dy=5, **tstyle)
    else:
        tm = alt.Chart(tdf).mark_text(angle=315, align="right", baseline="middle", dx=-3, **tstyle)
    layers.append(tm.encode(x=XE, y=Y("z"), text="t:N"))

    adf = pd.DataFrame(ann, columns=["t", "x", "y"])
    layers.append(alt.Chart(adf).mark_text(font=FONT, fontSize=15, fontWeight="bold", color="#111111").encode(
        x=XE, y=Y("y"), text="t:N"))
    for t in texts:
        layers.append(title_text(*t))
    return alt.layer(*layers).properties(width=w, height=h)


# frames: (left, right, top, bottom) relative to the plot area
FR_FE = (-32, 368)
FR_LB = (-32, 370)
FR_AR = (-35, 358)
R1, R2, R3, R4 = (-6, 130), (-7, 129), (-4, 132), (-6, 131)

placeholder = alt.layer(
    title_text("FE", 172, -24),
    title_text("Sh/Lab", -76, 61, 270, 19),
).properties(width=374, height=145)

p_sh_lb = panel(SH_LB_U, SH_LB_G, SH_LB_B, SH_LB_L, Y_SH_LB, 363, 123, TICKS4, "rot", False, ANN_SH_LB,
                FR_LB + R1, [("LB", 169, -24)])
p_sh_ar = panel(SH_AR_U, SH_AR_G, SH_AR_B, SH_AR_L, Y_SH_AR, 352, 124, TICKS4, "rot", False, ANN_SH_AR,
                FR_AR + R1, [("AR", 163, -24)])
p_tl_fe = panel(TL_FE_U, TL_FE_G, TL_FE_B, TL_FE_L, Y_TL_FE, 345, 117, TICKS5, "flat", True, [],
                FR_FE + R2, [("Tho/Lab", -76, 61, 270, 19)])
p_tl_lb = panel(TL_LB_U, TL_LB_G, TL_LB_B, TL_LB_L, Y_TL_LB, 338, 122, TICKS5, "rot", False, ANN_TL_LB,
                FR_LB + R2)
p_tl_ar = panel(TL_AR_U, TL_AR_G, TL_AR_B, TL_AR_L, Y_TL_AR, 355, 121, TICKS4, "rot", False, ANN_TL_AR,
                FR_AR + R2)
p_tp_fe = panel(TP_FE_U, TP_FE_G, TP_FE_B, TP_FE_L, Y_TP_FE, 342, 125, TICKS5, "rot", True, ANN_TP_FE,
                FR_FE + R3, [("Tho/Pel", -76, 64, 270, 19)])
p_tp_lb = panel(TP_LB_U, TP_LB_G, TP_LB_B, TP_LB_L, Y_TP_LB, 344, 122, TICKS4, "rot", False, ANN_TP_LB,
                FR_LB + R3)
p_tp_ar = panel(TP_AR_U, TP_AR_G, TP_AR_B, TP_AR_L, Y_TP_AR, 348, 123, TICKS4, "rot", False, ANN_TP_AR,
                FR_AR + R3)
p_pl_fe = panel(PL_FE_U, PL_FE_G, PL_FE_B, PL_FE_L, Y_PL_FE, 348, 116, TICKS4, "diag", False, ANN_PL_FE,
                FR_FE + R4, [("Pel/Lab", -76, 64, 270, 19)])
p_pl_lb = panel(PL_LB_U, PL_LB_G, PL_LB_B, PL_LB_L, Y_PL_LB, 335, 118, TICKS5, "rot", False, ANN_PL_LB,
                FR_LB + R4, [("% gait cycle", 149, 161, 0, 20)])
p_pl_ar = panel(PL_AR_U, PL_AR_G, PL_AR_B, PL_AR_L, Y_PL_AR, 345, 124, TICKS4, "rot", False, ANN_PL_AR,
                FR_AR + R4)

chart = alt.concat(
    placeholder, p_sh_lb, p_sh_ar,
    p_tl_fe, p_tl_lb, p_tl_ar,
    p_tp_fe, p_tp_lb, p_tp_ar,
    p_pl_fe, p_pl_lb, p_pl_ar,
    columns=3, spacing={"row": 25, "column": 59}, bounds="flush",
).properties(
    padding={"left": 4, "top": 3, "right": 0, "bottom": 0},
    background="white",
).configure_view(stroke=None)

chart.save("out.html", embed_options={"renderer": "svg", "actions": False})
